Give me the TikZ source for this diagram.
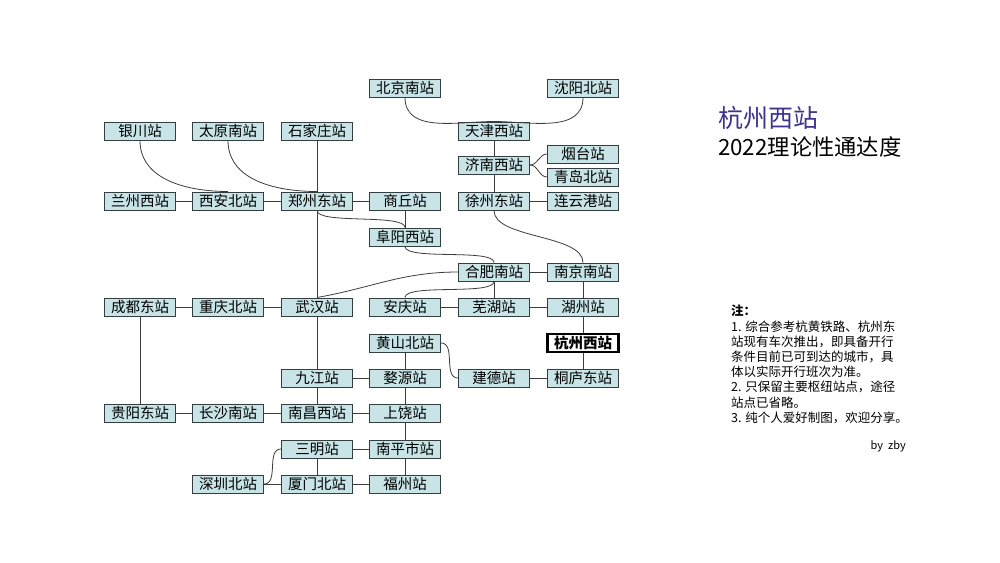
\documentclass[tikz,border=0pt]{standalone}
\usepackage{fontspec}
\newfontfamily\cjk{Noto Sans CJK SC}
\usepackage{tikz}
\usetikzlibrary{positioning}
\usepackage{xcolor}
\definecolor{boxfill}{RGB}{200,228,231}
\definecolor{boxline}{RGB}{50,62,64}
\definecolor{linkgray}{RGB}{60,60,60}
\definecolor{titleblue}{RGB}{62,52,140}
\tikzset{
  stn/.style={draw=boxline, fill=boxfill, line width=1pt, minimum width=71pt,
    minimum height=18pt, inner sep=0pt, font=\cjk\fontsize{14.5}{15}\selectfont},
  hub/.style={stn, draw=black, fill=white, line width=2.2pt,
    font=\cjk\bfseries\fontsize{14.5}{15}\selectfont},
  link/.style={linkgray, line width=0.8pt},
}
\begin{document}
\begin{tikzpicture}[x=1pt, y=1pt]
        \fill[white] (0,0) rectangle (1000,-562);
        \useasboundingbox (0,0) rectangle (1000,-562);
        % stations
        \foreach \n/\x/\y/\t in {bjn/405/88/北京南站, syb/583/88/沈阳北站,
            yc/140/131/银川站, tyn/228/131/太原南站, sjz/317/131/石家庄站, tjx/494/131/天津西站,
            jnx/494/165/济南西站, yt/583/154/烟台站, qdb/583/177/青岛北站,
            lzx/140/201/兰州西站, xab/228/201/西安北站, zzd/317/201/郑州东站,
            sq/405/201/商丘站, xzd/494/201/徐州东站, lyg/583/201/连云港站,
            fyx/405/237/阜阳西站, hfn/494/272/合肥南站, njn/583/272/南京南站,
            cdd/140/307/成都东站, cqb/228/307/重庆北站, whz/317/307/武汉站,
            aq/405/307/安庆站, wuhu/494/307/芜湖站, huz/583/307/湖州站,
            hsb/405/343/黄山北站,
            jj/317/378/九江站, wy/405/378/婺源站, jd/494/378/建德站, tld/583/378/桐庐东站,
            gyd/140/413/贵阳东站, csn/228/413/长沙南站, ncx/317/413/南昌西站, sr/405/413/上饶站,
            sm/317/449/三明站, np/405/449/南平市站,
            szb/228/484/深圳北站, xmb/317/484/厦门北站, fz/405/484/福州站} {
          \node[stn] (\n) at (\x,-\y) {\t};
        }
        \node[hub] (hzx) at (583,-343) {杭州西站};
        % straight links
        \foreach \a/\b in {lzx/xab, xab/zzd, zzd/sq, xzd/lyg, hfn/njn, cdd/cqb, cqb/whz,
            aq/wuhu, wuhu/huz, jj/wy, jd/tld, gyd/csn, csn/ncx, ncx/sr, sm/np, szb/xmb, xmb/fz,
            tjx/jnx, jnx/xzd, sjz/zzd, zzd/whz, whz/jj, jj/ncx, sq/fyx, hfn/wuhu, njn/huz,
            huz/hzx, hzx/tld, cdd/gyd, hsb/wy, wy/sr, sr/np, np/fz, sm/xmb} {
          \draw[link] (\a) -- (\b);
        }
        % curved links
        \draw[link] (bjn.south) to[out=-90,in=180] (tjx.north);
        \draw[link] (syb.south) to[out=-90,in=0] (tjx.north);
        \draw[link] (yc.south) to[out=-90,in=180] (xab.north);
        \draw[link] (tyn.south) to[out=-90,in=180] (zzd.north);
        \draw[link] (zzd.south) to[out=-90,in=90,looseness=0.4] (fyx.north);
        \draw[link] (fyx.south) to[out=-90,in=90,looseness=0.4] (hfn.north);
        \draw[link] (xzd.south) to[out=-90,in=90,looseness=0.7] (njn.north);
        \draw[link] (hfn.west) to[out=180,in=10] (whz.north);
        \draw[link] (hfn.south) to[out=-90,in=90,looseness=0.4] (aq.north);
        \draw[link] (jnx.east) to[out=0,in=180] (yt.west);
        \draw[link] (jnx.east) to[out=0,in=180] (qdb.west);
        \draw[link] (hsb.east) to[out=0,in=180] (jd.west);
        \draw[link] (szb.east) to[out=0,in=180] (sm.west);
        % title and notes
        \node[anchor=west, text=titleblue, inner sep=0pt,
          font=\cjk\fontsize{25}{25}\selectfont] (ttl) at (718,-118) {杭州西站};
        \node[anchor=west, inner sep=0pt,
          font=\cjk\fontsize{22.3}{22.3}\selectfont] (sub) at (718,-147) {2022理论性通达度};
        \node[anchor=north west, align=left, inner sep=0pt,
          font=\cjk\fontsize{12.5}{15.2}\selectfont] (notes) at (731,-305)
          {\textbf{注：}\\
           1. 综合参考杭黄铁路、杭州东\\
           站现有车次推出，即具备开行\\
           条件目前已可到达的城市，具\\
           体以实际开行班次为准。\\
           2. 只保留主要枢纽站点，途径\\
           站点已省略。\\
           3. 纯个人爱好制图，欢迎分享。};
        \node[anchor=east, inner sep=0pt, font=\cjk\fontsize{11}{11}\selectfont]
          (by) at (906,-446) {by\ \ zby};
\end{tikzpicture}
\end{document}
